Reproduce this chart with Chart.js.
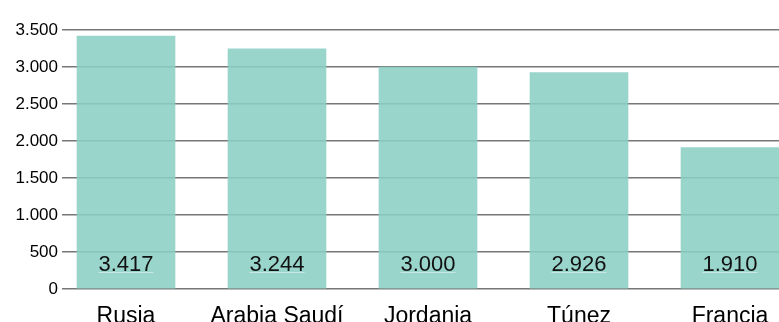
<!DOCTYPE html>
<html>
<head>
<meta charset="utf-8">
<script src="https://cdn.jsdelivr.net/npm/chart.js@4/dist/chart.umd.min.js"></script>
<style>
  html, body { margin: 0; padding: 0; background: #fff; overflow: hidden; }
  #wrap { width: 779px; height: 322px; overflow: hidden; }
</style>
</head>
<body>
<div id="wrap"><canvas id="chart" width="779" height="340"></canvas></div>
<script>
const categories = ['Rusia', 'Arabia Saudí', 'Jordania', 'Túnez', 'Francia'];
const values = [3417, 3244, 3000, 2926, 1910];
const yMax = 3500;
const yStep = 500;

const fontFamily = '"Liberation Sans", Arial, Helvetica, sans-serif';

// thousands with a dot, like "3.417"
function fmt(n) {
  return String(n).replace(/\B(?=(\d{3})+(?!\d))/g, '.');
}

// number written inside each bar, near the bottom
const valueLabels = {
  id: 'valueLabels',
  afterDatasetsDraw(chart) {
    const ctx = chart.ctx;
    const meta = chart.getDatasetMeta(0);
    const base = chart.scales.y.getPixelForValue(0);
    ctx.save();
    ctx.font = '22px ' + fontFamily;
    ctx.textAlign = 'center';
    ctx.textBaseline = 'alphabetic';
    meta.data.forEach((bar, i) => {
      const txt = fmt(values[i]);
      const w = ctx.measureText(txt).width;
      ctx.fillStyle = 'rgba(255,255,255,0.45)';
      ctx.fillRect(bar.x - w / 2, base - 17, w, 1);
      ctx.fillStyle = '#111';
      ctx.fillText(txt, bar.x, base - 18);
    });
    ctx.restore();
  }
};

const ctx = document.getElementById('chart').getContext('2d');
const chart = new Chart(ctx, {
  type: 'bar',
  data: {
    datasets: [{
      data: values.map((v, i) => ({ x: i, y: v })),
      backgroundColor: 'rgba(140, 207, 197, 0.88)',
      borderWidth: 0,
      barThickness: 98
    }]
  },
  options: {
    responsive: false,
    animation: false,
    devicePixelRatio: 1,
    layout: { padding: { top: 30, right: 0, left: 0, bottom: 0 } },
    plugins: {
      legend: { display: false },
      tooltip: { enabled: false }
    },
    scales: {
      x: {
        type: 'linear',
        offset: false,
        min: -0.4238,
        max: 4.3245,
        grid: { display: false, offset: false },
        border: { display: false },
        afterBuildTicks: (scale) => {
          scale.ticks = categories.map((_, i) => ({ value: i }));
        },
        afterFit: (scale) => { scale.height = 51; },
        ticks: {
          autoSkip: false,
          maxRotation: 0,
          padding: 6,
          color: '#000',
          font: { family: fontFamily, size: 23 },
          callback: (v) => categories[v] || ''
        }
      },
      y: {
        min: 0,
        max: yMax,
        afterFit: (scale) => { scale.width = 62; },
        border: { display: false },
        grid: {
          color: '#777',
          lineWidth: 1.5,
          drawTicks: false
        },
        ticks: {
          stepSize: yStep,
          padding: 4,
          color: '#000',
          font: { family: fontFamily, size: 17 },
          callback: (v) => fmt(v)
        }
      }
    }
  },
  plugins: [valueLabels]
});
</script>
</body>
</html>
